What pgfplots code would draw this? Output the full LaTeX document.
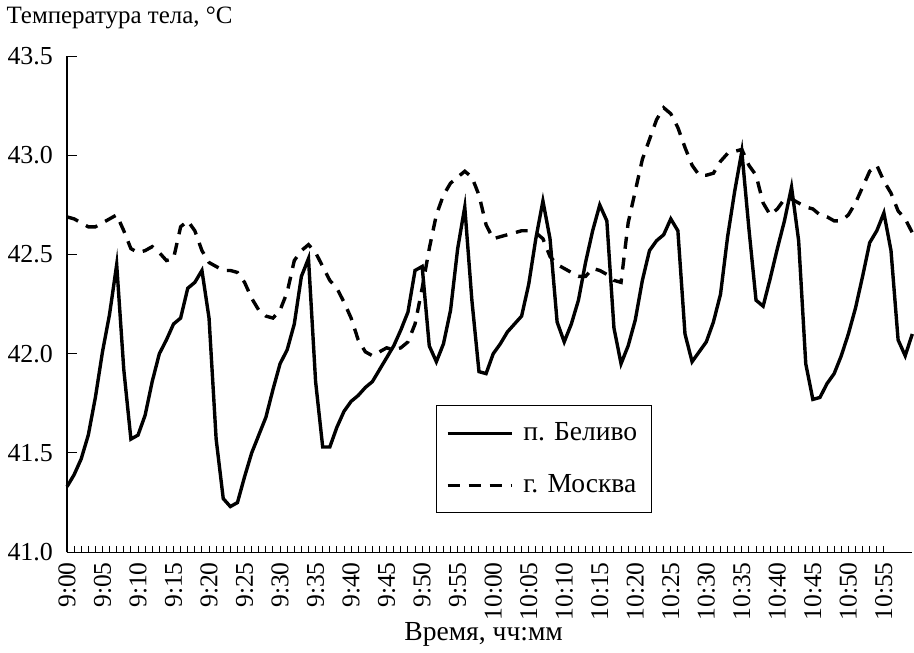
\documentclass[border=0pt]{standalone}
\usepackage{fontspec}
\setmainfont{Liberation Serif}
\usepackage{pgfplots}
\usepackage{pgfplotstable}
\pgfplotsset{compat=1.18}
\pgfplotstableread{
m s d
0 41.33 42.69
1 41.39 42.68
2 41.47 42.66
3 41.59 42.64
4 41.78 42.64
5 42.01 42.66
6 42.20 42.68
7 42.45 42.70
8 41.92 42.62
9 41.57 42.53
10 41.59 42.51
11 41.69 42.52
12 41.86 42.54
13 42.00 42.51
14 42.07 42.47
15 42.15 42.48
16 42.18 42.64
17 42.33 42.67
18 42.36 42.62
19 42.42 42.52
20 42.18 42.46
21 41.57 42.44
22 41.27 42.42
23 41.23 42.42
24 41.25 42.41
25 41.38 42.36
26 41.50 42.28
27 41.59 42.22
28 41.68 42.19
29 41.82 42.18
30 41.95 42.22
31 42.02 42.31
32 42.15 42.47
33 42.39 42.52
34 42.48 42.55
35 41.86 42.51
36 41.53 42.44
37 41.53 42.37
38 41.63 42.33
39 41.71 42.26
40 41.76 42.18
41 41.79 42.07
42 41.83 42.01
43 41.86 41.99
44 41.92 42.01
45 41.98 42.03
46 42.04 42.02
47 42.12 42.03
48 42.21 42.06
49 42.42 42.15
50 42.44 42.33
51 42.04 42.53
52 41.96 42.70
53 42.05 42.80
54 42.22 42.86
55 42.53 42.89
56 42.74 42.92
57 42.27 42.89
58 41.91 42.80
59 41.90 42.65
60 42.00 42.58
61 42.05 42.59
62 42.11 42.60
63 42.15 42.61
64 42.19 42.62
65 42.35 42.62
66 42.58 42.61
67 42.77 42.58
68 42.58 42.49
69 42.16 42.45
70 42.06 42.43
71 42.15 42.41
72 42.27 42.39
73 42.46 42.39
74 42.62 42.43
75 42.75 42.42
76 42.67 42.40
77 42.13 42.37
78 41.95 42.36
79 42.04 42.66
80 42.17 42.82
81 42.37 42.98
82 42.52 43.08
83 42.57 43.18
84 42.60 43.24
85 42.68 43.21
86 42.62 43.14
87 42.10 43.04
88 41.96 42.95
89 42.01 42.90
90 42.06 42.90
91 42.16 42.91
92 42.30 42.97
93 42.59 43.01
94 42.82 43.02
95 43.02 43.03
96 42.63 42.95
97 42.27 42.90
98 42.24 42.76
99 42.38 42.70
100 42.53 42.73
101 42.67 42.78
102 42.84 42.78
103 42.57 42.76
104 41.95 42.74
105 41.77 42.73
106 41.78 42.70
107 41.85 42.69
108 41.90 42.67
109 41.99 42.67
110 42.10 42.70
111 42.23 42.76
112 42.39 42.84
113 42.56 42.92
114 42.62 42.95
115 42.71 42.87
116 42.52 42.81
117 42.07 42.72
118 41.99 42.68
119 42.10 42.61
}\datatable
\begin{document}
\begin{tikzpicture}
\begin{axis}[
  scale only axis,
  width=423.5pt, height=248.5pt,
  xmin=0, xmax=119,
  ymin=41, ymax=43.5,
  axis x line=bottom, axis y line=left,
  axis line style={-, line width=0.6pt},
  tick style={black, line width=0.5pt},
  tick align=inside,
  major tick length=5pt,
  minor tick length=3pt,
  xtick={0,5,...,115},
  minor x tick num=4,
  xtick style={/pgfplots/major tick length=3pt},
  xticklabels={9:00,9:05,9:10,9:15,9:20,9:25,9:30,9:35,9:40,9:45,9:50,9:55,10:00,10:05,10:10,10:15,10:20,10:25,10:30,10:35,10:40,10:45,10:50,10:55},
  xticklabel style={rotate=90, anchor=east, font=\fontsize{12.8}{14}\selectfont, xshift=-1.5pt},
  ytick={41,41.5,...,43.5},
  yticklabel style={font=\fontsize{13}{14}\selectfont, xshift=-3.5pt, /pgf/number format/.cd, fixed, fixed zerofill, precision=1},
  /pgf/number format/assume math mode=true,
  xlabel={Время, чч:мм},
  xlabel style={font=\fontsize{13.8}{15}\selectfont, yshift=6pt, xshift=-3pt},
  clip=false,
  legend cell align=left,
  legend style={at={(rel axis cs:0.436,0.296)}, anchor=north west, draw=black, line width=0.5pt,
    inner xsep=5pt, inner ysep=6.5pt, row sep=11.5pt, column sep=3pt, font=\fontsize{13.8}{15}\selectfont},
  legend image code/.code={\draw[#1] (0pt,0pt) -- (32pt,0pt);},
]
\addplot[black, line width=1.7pt, line join=miter] table[x=m, y=s] {\datatable};
\addlegendentry{п. Беливо}
\addplot[black, line width=1.7pt, dash pattern=on 6pt off 4.5pt] table[x=m, y=d] {\datatable};
\addlegendentry{г. Москва}
\node[anchor=base west, font=\fontsize{12.5}{14}\selectfont] at (rel axis cs:0,1) [xshift=-33.75pt, yshift=16.5pt] {Температура тела, °C};
\end{axis}
\end{tikzpicture}
\end{document}
